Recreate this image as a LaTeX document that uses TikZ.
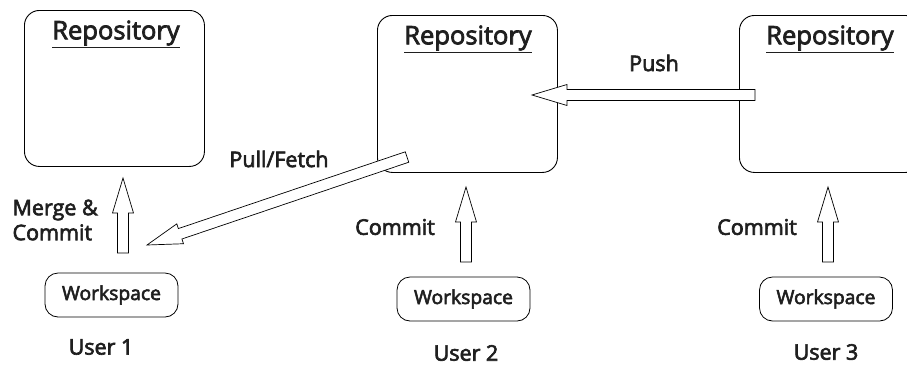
\documentclass[tikz,border=0pt]{standalone}
\usepackage{fontspec}
\setmainfont{Open Sans}
\newfontfamily\semibold{Open Sans}[FakeBold=3]
\usetikzlibrary{calc}

\definecolor{textgray}{gray}{0.12}

\tikzset{
  repo/.style={draw, line width=0.9pt, rounded corners=15pt, anchor=north west},
  wsbox/.style={draw, line width=0.8pt, rounded corners=13pt, minimum width=133pt, minimum height=44pt, font=\semibold\fontsize{19.3}{20}\selectfont, text=textgray},
  lbl/.style={font=\semibold\fontsize{21.5}{25}\selectfont, text=textgray},
  title/.style={font=\semibold\fontsize{25.5}{28}\selectfont, text=textgray},
  arrowline/.style={draw, line width=0.7pt, fill=white}
}

% hollow block arrow from #1 (tail) to #2 (tip)
\newcommand{\hollowarrow}[2]{%
  \coordinate (hb) at ($(#2)!35pt!(#1)$);
  \draw[arrowline] ($(#1)!5.5pt!90:(#2)$) -- ($(hb)!5.5pt!90:(#2)$) -- ($(hb)!10.5pt!90:(#2)$) -- (#2)
    -- ($(hb)!10.5pt!-90:(#2)$) -- ($(hb)!5.5pt!-90:(#2)$) -- ($(#1)!5.5pt!-90:(#2)$) -- cycle;
}

\begin{document}
\begin{tikzpicture}[x=1pt,y=-1pt]
  \useasboundingbox (0,0) rectangle (907,365);
  \clip (0,0) rectangle (907,365);

  % repositories
  \node[repo, minimum width=180pt, minimum height=156pt] (repo1) at (24,10) {};
  \node[repo, minimum width=180pt, minimum height=157pt] (repo2) at (377,15) {};
  \node[repo, minimum width=181pt, minimum height=157pt] (repo3) at (739,15) {};
  \node[title] (repo1 title) at (116,34) {\underline{Repository}};
  \node[title] (repo2 title) at (468,39) {\underline{Repository}};
  \node[title] (repo3 title) at (830,39) {\underline{Repository}};

  % workspaces and users
  \node[wsbox] (ws1) at (111.5,295) {Workspace};
  \node[wsbox] (ws2) at (463.5,299) {Workspace};
  \node[wsbox] (ws3) at (826,299) {Workspace};
  \node[lbl] (user1) at (101,347) {User 1};
  \node[lbl] (user2) at (466,353) {User 2};
  \node[lbl] (user3) at (826,352) {User 3};

  % arrow ends
  \coordinate (merge tail) at (123,253);
  \coordinate (merge tip) at (123,178);
  \coordinate (commit2 tail) at (466,262);
  \coordinate (commit2 tip) at (466,187);
  \coordinate (commit3 tail) at (828,262);
  \coordinate (commit3 tip) at (828,187);
  \coordinate (push tail) at (755,95);
  \coordinate (push tip) at (532,95);
  \coordinate (pull tail) at (407,157);
  \coordinate (pull tip) at (147,245);

  \hollowarrow{merge tail}{merge tip}
  \hollowarrow{commit2 tail}{commit2 tip}
  \hollowarrow{commit3 tail}{commit3 tip}
  \hollowarrow{push tail}{push tip}
  \hollowarrow{pull tail}{pull tip}

  % labels
  \node[lbl, align=left, anchor=west] (merge lbl) at (9,220) {Merge \&\\Commit};
  \node[lbl] (commit2 lbl) at (395,227) {Commit};
  \node[lbl] (commit3 lbl) at (757,227) {Commit};
  \node[lbl] (push lbl) at (654,63) {Push};
  \node[lbl] (pull lbl) at (279,159) {Pull/Fetch};
\end{tikzpicture}
\end{document}
